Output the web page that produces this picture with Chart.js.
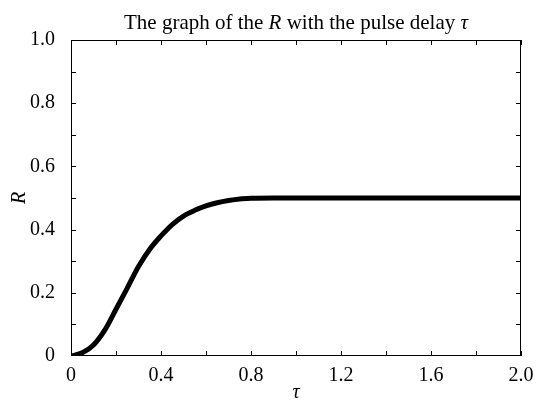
<!DOCTYPE html>
<html>
<head>
<meta charset="utf-8">
<script src="https://cdn.jsdelivr.net/npm/chart.js@4"></script>
<style>
  html, body { margin: 0; padding: 0; background: #fff; }
  #wrap { width: 538px; height: 400px; }
</style>
</head>
<body>
<div id="wrap"><canvas id="rChart" width="538" height="400"></canvas></div>
<script>
// values
const tau = [0, 0.05, 0.1, 0.15, 0.2, 0.25, 0.3, 0.35, 0.4, 0.45, 0.5, 0.55, 0.6, 0.65, 0.7, 0.75, 0.8, 0.9, 1.0, 1.2, 1.4, 1.6, 1.8, 2.0];
const rValues = [0, 0.01, 0.035, 0.082, 0.148, 0.215, 0.283, 0.338, 0.38, 0.416, 0.443, 0.461, 0.475, 0.485, 0.492, 0.497, 0.499, 0.5, 0.5, 0.5, 0.5, 0.5, 0.5, 0.5];
const xTickLabels = ['0', '0.4', '0.8', '1.2', '1.6', '2.0'];
const yTickLabels = ['0', '0.2', '0.4', '0.6', '0.8', '1.0'];

const serif = '"Liberation Serif", "Times New Roman", serif';

// box + inward ticks + mixed-style title
const frame = {
    id: 'frame',
    afterDraw(chart) {
        const { ctx, chartArea: a, scales: { x, y } } = chart;
        ctx.save();
        ctx.strokeStyle = '#000';
        ctx.lineWidth = 1;
        ctx.strokeRect(a.left + 0.5, a.top + 0.5, a.right - a.left - 1, a.bottom - a.top - 1);
        const len = 5;
        ctx.beginPath();
        for (let v = 0.2; v < 2; v += 0.2) {
            const px = Math.round(x.getPixelForValue(v)) + 0.5;
            ctx.moveTo(px, a.bottom); ctx.lineTo(px, a.bottom - len);
            ctx.moveTo(px, a.top); ctx.lineTo(px, a.top + len);
        }
        for (let v = 0.1; v < 1; v += 0.1) {
            const py = Math.round(y.getPixelForValue(v)) + 0.5;
            ctx.moveTo(a.left, py); ctx.lineTo(a.left + len, py);
            ctx.moveTo(a.right, py); ctx.lineTo(a.right - len, py);
        }
        ctx.stroke();

        // title
        const parts = [
            ['The graph of the ', 'normal'],
            ['R', 'italic'],
            [' with the pulse delay ', 'normal'],
            ['\u03c4', 'italic']
        ];
        let total = 0;
        parts.forEach(p => { ctx.font = p[1] + ' 21px ' + serif; total += ctx.measureText(p[0]).width; });
        let cx = (a.left + a.right) / 2 - total / 2;
        ctx.fillStyle = '#000';
        ctx.textBaseline = 'alphabetic';
        ctx.textAlign = 'left';
        parts.forEach(p => {
            ctx.font = p[1] + ' 21px ' + serif;
            ctx.fillText(p[0], cx, 29);
            cx += ctx.measureText(p[0]).width;
        });
        ctx.restore();
    }
};

new Chart(document.getElementById('rChart'), {
    type: 'line',
    data: {
        datasets: [{
            data: tau.map((t, i) => ({ x: t, y: rValues[i] })),
            borderColor: '#000',
            borderWidth: 5,
            pointRadius: 0,
            cubicInterpolationMode: 'monotone',
            fill: false
        }]
    },
    options: {
        responsive: false,
        animation: false,
        layout: { padding: { top: 40, right: 17, left: 0, bottom: 0 } },
        plugins: { legend: { display: false }, tooltip: { enabled: false } },
        scales: {
            x: {
                type: 'linear',
                min: 0,
                max: 2,
                afterFit: s => { s.height = 44; },
                border: { display: false },
                grid: { display: false },
                ticks: {
                    stepSize: 0.4,
                    autoSkip: false,
                    maxRotation: 0,
                    padding: 0,
                    color: '#000',
                    font: { family: serif, size: 20 },
                    callback: (v, i) => xTickLabels[i]
                },
                title: {
                    display: true,
                    text: '\u03c4',
                    color: '#000',
                    font: { family: serif, size: 20, style: 'italic' },
                    padding: { top: 0, bottom: -5 }
                }
            },
            y: {
                min: 0,
                max: 1,
                afterFit: s => { s.width = 71; },
                border: { display: false },
                grid: { display: false },
                ticks: {
                    stepSize: 0.2,
                    autoSkip: false,
                    padding: 8,
                    color: '#000',
                    font: { family: serif, size: 20 },
                    callback: (v, i) => yTickLabels[i]
                },
                title: {
                    display: true,
                    text: 'R',
                    color: '#000',
                    font: { family: serif, size: 20, style: 'italic' },
                    padding: { top: 8, bottom: 0 }
                }
            }
        }
    },
    plugins: [frame]
});
</script>
</body>
</html>
